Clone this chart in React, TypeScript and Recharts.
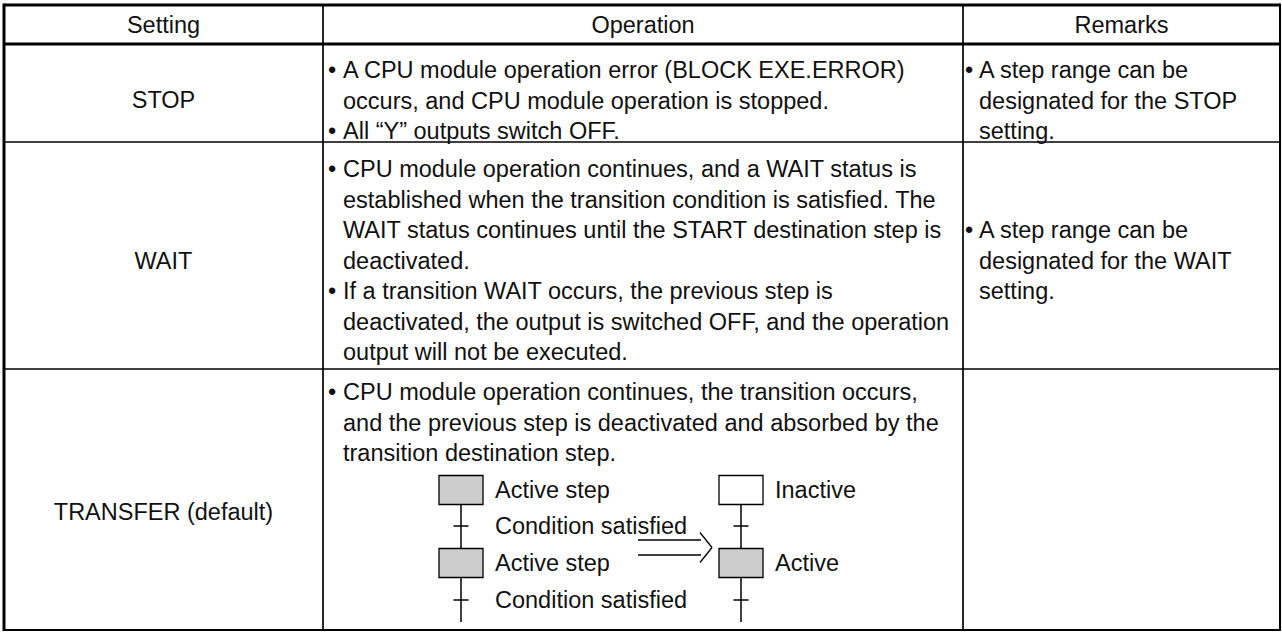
import React from 'react';
import { ScatterChart, Scatter, XAxis, YAxis, ReferenceLine, ReferenceArea } from 'recharts';

const headers = ['Setting', 'Operation', 'Remarks'];
const settings = ['STOP', 'WAIT', 'TRANSFER (default)'];

const stopOperation = [
    '• A CPU module operation error (BLOCK EXE.ERROR)',
    'occurs, and CPU module operation is stopped.',
    '• All “Y” outputs switch OFF.',
];
const waitOperation = [
    '• CPU module operation continues, and a WAIT status is',
    'established when the transition condition is satisfied. The',
    'WAIT status continues until the START destination step is',
    'deactivated.',
    '• If a transition WAIT occurs, the previous step is',
    'deactivated, the output is switched OFF, and the operation',
    'output will not be executed.',
];
const transferOperation = [
    '• CPU module operation continues, the transition occurs,',
    'and the previous step is deactivated and absorbed by the',
    'transition destination step.',
];

const stopRemarks = ['• A step range can be', 'designated for the STOP', 'setting.'];
const waitRemarks = ['• A step range can be', 'designated for the WAIT', 'setting.'];
const transferRemarks: string[] = [];

// step diagram in the TRANSFER row
const leftStepLabels = ['Active step', 'Condition satisfied', 'Active step', 'Condition satisfied'];
const rightStepLabels = ['Inactive', '', 'Active', ''];
const leftStepActive = [true, true];
const rightStepActive = [false, true];

// layout
const W = 1282;
const H = 632;
const colEdges = [4, 323, 963, 1280];
const rowEdges = [5, 44, 142, 369, 630];
const firstLineY = [70, 169, 392];
const lineGap = 30.5;
const settingY = [100, 261, 512];
const remarkStartLine = [0, 2, 0];
const opBullet = [5, 20];
const remarkBullet = [2, 16];

const diagramRowY = [490, 526, 563, 600];
const branchX = [461, 741];
const boxHalfW = 22;
const boxHalfH = 14.5;
const tickHalf = 7.5;
const labelOffset = 34;
const branchBottom = 622;

const FONT = '"Liberation Sans", Arial, sans-serif';
const FS = 23.5;
const GRAY = '#cdcdcd';

type TextItem = { x: number; y: number; text: string; anchor: string };

const TextShape = (props: any) => {
    const { cx, cy, payload } = props;
    if (!payload || !payload.text) return null;
    return (
        <text
            x={cx}
            y={cy}
            textAnchor={payload.anchor}
            dominantBaseline="central"
            fontFamily={FONT}
            fontSize={FS}
            fill="#111"
        >
            {payload.text}
        </text>
    );
};

const bulletLines = (lines: string[], left: number, startY: number, pads: number[]): TextItem[] => {
    const out: TextItem[] = [];
    lines.forEach((line, i) => {
        const y = startY + i * lineGap;
        if (line.startsWith('• ')) {
            out.push({ x: left + pads[0], y, text: '•', anchor: 'start' });
            out.push({ x: left + pads[1], y, text: line.slice(2), anchor: 'start' });
        } else {
            out.push({ x: left + pads[1], y, text: line, anchor: 'start' });
        }
    });
    return out;
};

const App: React.FC = () => {
    const headerItems: TextItem[] = headers.map((h, i) => ({
        x: (colEdges[i] + colEdges[i + 1]) / 2,
        y: (rowEdges[0] + rowEdges[1]) / 2,
        text: h,
        anchor: 'middle',
    }));

    const settingItems: TextItem[] = settings.map((s, i) => ({
        x: (colEdges[0] + colEdges[1]) / 2,
        y: settingY[i],
        text: s,
        anchor: 'middle',
    }));

    const operationItems: TextItem[] = [stopOperation, waitOperation, transferOperation].flatMap((lines, i) =>
        bulletLines(lines, colEdges[1], firstLineY[i], opBullet)
    );

    const remarkItems: TextItem[] = [stopRemarks, waitRemarks, transferRemarks].flatMap((lines, i) =>
        bulletLines(lines, colEdges[2], firstLineY[i] + remarkStartLine[i] * lineGap, remarkBullet)
    );

    const diagramItems: TextItem[] = [
        ...leftStepLabels.map((t, i) => ({ x: branchX[0] + labelOffset, y: diagramRowY[i], text: t, anchor: 'start' })),
        ...rightStepLabels.map((t, i) => ({ x: branchX[1] + labelOffset, y: diagramRowY[i], text: t, anchor: 'start' })),
    ].filter(t => t.text);

    // table rules
    const thick = [
        { x1: colEdges[0], y1: rowEdges[0], x2: colEdges[3], y2: rowEdges[0], w: 3 },
        { x1: colEdges[0], y1: rowEdges[1], x2: colEdges[3], y2: rowEdges[1], w: 3 },
        { x1: colEdges[0], y1: rowEdges[0] - 1.5, x2: colEdges[0], y2: rowEdges[4] + 1, w: 3 },
        { x1: colEdges[3], y1: rowEdges[0] - 1.5, x2: colEdges[3], y2: rowEdges[4] + 1, w: 2 },
        { x1: colEdges[0], y1: rowEdges[4], x2: colEdges[3], y2: rowEdges[4], w: 2 },
    ];
    const thin = [
        { x1: colEdges[0], y1: rowEdges[2], x2: colEdges[3], y2: rowEdges[2], w: 1.7 },
        { x1: colEdges[0], y1: rowEdges[3], x2: colEdges[3], y2: rowEdges[3], w: 1.7 },
        { x1: colEdges[1], y1: rowEdges[0], x2: colEdges[1], y2: rowEdges[4], w: 1.7 },
        { x1: colEdges[2], y1: rowEdges[0], x2: colEdges[2], y2: rowEdges[4], w: 1.7 },
    ];

    // diagram strokes
    const diagramLines: { x1: number; y1: number; x2: number; y2: number; w: number }[] = [];
    branchX.forEach(bx => {
        diagramLines.push({ x1: bx, y1: diagramRowY[0] + boxHalfH, x2: bx, y2: diagramRowY[2] - boxHalfH, w: 1.5 });
        diagramLines.push({ x1: bx, y1: diagramRowY[2] + boxHalfH, x2: bx, y2: branchBottom, w: 1.5 });
        [diagramRowY[1], diagramRowY[3]].forEach(ty => {
            diagramLines.push({ x1: bx - tickHalf, y1: ty, x2: bx + tickHalf, y2: ty, w: 1.5 });
        });
    });
    // transition arrow
    diagramLines.push({ x1: 638, y1: 540, x2: 701, y2: 540, w: 1.3 });
    diagramLines.push({ x1: 638, y1: 555, x2: 701, y2: 555, w: 1.3 });
    diagramLines.push({ x1: 700, y1: 532.5, x2: 712, y2: 547.5, w: 1.3 });
    diagramLines.push({ x1: 712, y1: 547.5, x2: 700, y2: 562.5, w: 1.3 });

    const boxes = [
        ...leftStepActive.map((a, i) => ({ cx: branchX[0], cy: diagramRowY[i * 2], active: a })),
        ...rightStepActive.map((a, i) => ({ cx: branchX[1], cy: diagramRowY[i * 2], active: a })),
    ];

    const allLines = [...thin, ...thick, ...diagramLines];

    return (
        <div style={{ position: 'fixed', left: 0, top: 0, width: W, height: H, background: '#fff' }}>
            <ScatterChart width={W} height={H} margin={{ top: 0, right: 0, bottom: 0, left: 0 }}>
                <XAxis type="number" dataKey="x" domain={[0, W]} hide allowDataOverflow />
                <YAxis type="number" dataKey="y" domain={[0, H]} reversed hide allowDataOverflow />
                {allLines.map((l, i) => (
                    <ReferenceLine
                        key={`l${i}`}
                        segment={[{ x: l.x1, y: l.y1 }, { x: l.x2, y: l.y2 }]}
                        stroke="#000"
                        strokeWidth={l.w}
                        ifOverflow="visible"
                    />
                ))}
                {boxes.map((b, i) => (
                    <ReferenceArea
                        key={`b${i}`}
                        x1={b.cx - boxHalfW}
                        x2={b.cx + boxHalfW}
                        y1={b.cy - boxHalfH}
                        y2={b.cy + boxHalfH}
                        fill={b.active ? GRAY : '#fff'}
                        fillOpacity={1}
                        stroke="#000"
                        strokeWidth={1.3}
                        ifOverflow="visible"
                    />
                ))}
                <Scatter data={headerItems} shape={TextShape} isAnimationActive={false} />
                <Scatter data={settingItems} shape={TextShape} isAnimationActive={false} />
                <Scatter data={operationItems} shape={TextShape} isAnimationActive={false} />
                <Scatter data={remarkItems} shape={TextShape} isAnimationActive={false} />
                <Scatter data={diagramItems} shape={TextShape} isAnimationActive={false} />
            </ScatterChart>
        </div>
    );
};

export default App;
